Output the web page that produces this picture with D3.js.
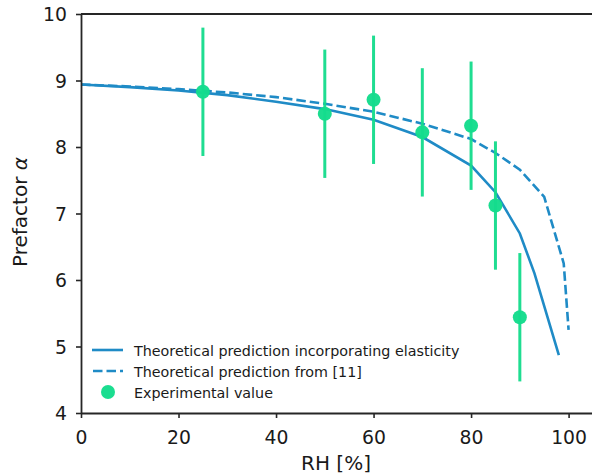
<!DOCTYPE html>
<html><head><meta charset="utf-8">
<script src="https://cdn.jsdelivr.net/npm/d3@7"></script>
<style>body{margin:0;background:#fff}svg{display:block;font-family:"DejaVu Sans",sans-serif}</style>
</head><body>
<script>
const solidRH = [0,10,20,30,40,50,60,70,80,85,90,93,98];
const solidAlpha = [8.94,8.90,8.85,8.78,8.68,8.57,8.41,8.15,7.72,7.32,6.70,6.10,4.87];
const dashRH = [0,10,20,30,40,50,60,70,80,85,90,95,99,100];
const dashAlpha = [8.94,8.91,8.87,8.82,8.75,8.65,8.53,8.35,8.12,7.91,7.66,7.25,6.25,5.25];
const expRH = [25,50,60,70,80,85,90];
const expAlpha = [8.83,8.50,8.71,8.22,8.32,7.12,5.44];
const expErr = [0.965,0.965,0.965,0.965,0.965,0.965,0.965];
const xTicks = [0,20,40,60,80,100];
const yTicks = [4,5,6,7,8,9,10];
const legendLabels = ["Theoretical prediction incorporating elasticity","Theoretical prediction from [11]","Experimental value"];

const W=592,H=476;
const L=81,R=592,T=14,B=413;
const blue="#1f8bc6", green="#14dc8c";
const svg=d3.select("body").append("svg").attr("width",W).attr("height",H);
const x=d3.scaleLinear().domain([0,104.8]).range([L,R]);
const y=d3.scaleLinear().domain([4,10]).range([B,T]);

const line=d3.line().x(d=>x(d[0])).y(d=>y(d[1]));
svg.append("path").datum(solidRH.map((v,i)=>[v,solidAlpha[i]])).attr("d",line)
  .attr("fill","none").attr("stroke",blue).attr("stroke-width",2.6);
svg.append("path").datum(dashRH.map((v,i)=>[v,dashAlpha[i]])).attr("d",line)
  .attr("fill","none").attr("stroke",blue).attr("stroke-width",2.6).attr("stroke-dasharray","9.5,4");

const g=svg.append("g");
expRH.forEach((v,i)=>{
  g.append("line").attr("x1",x(v)).attr("x2",x(v)).attr("y1",y(expAlpha[i]-expErr[i])).attr("y2",y(expAlpha[i]+expErr[i]))
   .attr("stroke",green).attr("stroke-width",3).attr("opacity",0.95);
  g.append("circle").attr("cx",x(v)).attr("cy",y(expAlpha[i])).attr("r",7).attr("fill",green).attr("opacity",0.97);
});

// axes
const fmt=d3.format("d");
const xa=svg.append("g").attr("transform",`translate(0,${B})`).call(d3.axisBottom(x).tickValues(xTicks).tickFormat(fmt).tickSize(5).tickPadding(5).tickSizeOuter(0));
const ya=svg.append("g").attr("transform",`translate(${L},0)`).call(d3.axisLeft(y).tickValues(yTicks).tickFormat(fmt).tickSize(5).tickPadding(9).tickSizeOuter(0));
[xa,ya].forEach(a=>{a.select(".domain").attr("stroke","#262626").attr("stroke-width",1.8);
  a.selectAll(".tick line").attr("stroke","#262626").attr("stroke-width",1.6);
  a.selectAll(".tick text").attr("font-size",18.8).attr("fill","#1a1a1a").attr("font-family","DejaVu Sans");});
xa.selectAll(".tick text").attr("y",31).attr("dy",0);
ya.selectAll(".tick text").attr("dy","0.36em");
svg.append("line").attr("x1",L).attr("x2",R).attr("y1",T).attr("y2",T).attr("stroke","#262626").attr("stroke-width",1.8);

svg.append("text").attr("x",336).attr("y",470).attr("text-anchor","middle").attr("font-size",20).attr("fill","#1a1a1a").text("RH [%]");
const yl=svg.append("text").attr("transform","translate(27,212) rotate(-90)").attr("text-anchor","middle").attr("font-size",20).attr("fill","#1a1a1a");
yl.append("tspan").text("Prefactor ");
yl.append("tspan").attr("font-style","italic").text("α");

// legend
const ly=[350,371,392];
svg.append("line").attr("x1",92).attr("x2",123).attr("y1",ly[0]).attr("y2",ly[0]).attr("stroke",blue).attr("stroke-width",2.6);
svg.append("line").attr("x1",93).attr("x2",123).attr("y1",ly[1]).attr("y2",ly[1]).attr("stroke",blue).attr("stroke-width",2.6).attr("stroke-dasharray","9.5,4");
svg.append("circle").attr("cx",108).attr("cy",ly[2]).attr("r",7).attr("fill",green).attr("opacity",0.97);
legendLabels.forEach((t,i)=>svg.append("text").attr("x",134).attr("y",ly[i]+5.5).attr("font-size",14.3).attr("fill","#1a1a1a").text(t));
</script>
</body></html>
